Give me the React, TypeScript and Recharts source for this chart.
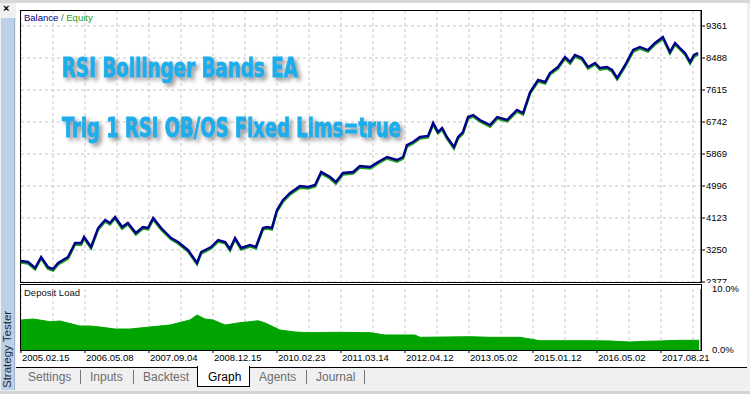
import { LineChart, Line, AreaChart, Area, XAxis, YAxis, CartesianGrid } from "recharts";

// x is the tester's bar position: one unit per grid column, dates are labelled every 2 columns
const steps = [
  0, 0.22, 0.44, 0.63, 0.84, 1.0, 1.16, 1.47, 1.69, 1.88,
  1.97, 2.19, 2.41, 2.63, 2.78, 2.94, 3.16, 3.34, 3.59, 3.81,
  3.97, 4.13, 4.38, 4.69, 4.91, 5.22, 5.5, 5.63, 5.94, 6.16,
  6.38, 6.53, 6.69, 6.88, 7.16, 7.34, 7.56, 7.69, 7.84, 8.0,
  8.19, 8.41, 8.72, 8.97, 9.19, 9.38, 9.66, 9.84, 10.06, 10.38,
  10.59, 10.91, 11.16, 11.44, 11.75, 11.94, 12.06, 12.25, 12.47, 12.72,
  12.88, 13.03, 13.16, 13.31, 13.53, 13.66, 13.81, 13.97, 14.13, 14.34,
  14.66, 14.88, 15.19, 15.5, 15.69, 15.91, 16.16, 16.38, 16.53, 16.78,
  17.0, 17.16, 17.31, 17.53, 17.72, 17.94, 18.09, 18.31, 18.47, 18.63,
  18.88, 19.13, 19.34, 19.59, 19.81, 20.06, 20.28, 20.44, 20.59, 20.75,
  20.91, 21.03, 21.16,
];

const balance = [
  2950, 2923, 2759, 3059, 2786, 2732, 2895, 3059, 3441, 3441,
  3605, 3332, 3850, 4068, 3987, 4150, 3877, 3987, 3714, 3877,
  3850, 4123, 3850, 3577, 3468, 3250, 2895, 3195, 3332, 3523,
  3468, 3277, 3577, 3305, 3386, 3332, 3850, 3877, 3850, 4341,
  4614, 4805, 4996, 4969, 5023, 5378, 5242, 5105, 5351, 5378,
  5542, 5514, 5651, 5787, 5705, 5787, 6115, 6196, 6333, 6360,
  6715, 6469, 6578, 6333, 6060, 6333, 6469, 6878, 6933, 6797,
  6660, 6878, 6797, 7069, 6987, 7560, 7888, 7833, 8079, 8242,
  8515, 8379, 8570, 8488, 8242, 8352, 8215, 8242, 8161, 7942,
  8297, 8706, 8788, 8706, 8897, 9061, 8652, 8897, 8761, 8624,
  8379, 8570, 8624,
];

const equity = [
  2910, 2880, 2720, 3020, 2740, 2690, 2855, 3015, 3400, 3395,
  3560, 3290, 3805, 4030, 3945, 4110, 3830, 3950, 3670, 3835,
  3810, 4080, 3805, 3540, 3425, 3210, 2860, 3150, 3290, 3480,
  3430, 3235, 3535, 3265, 3345, 3290, 3810, 3835, 3805, 4300,
  4570, 4765, 4950, 4930, 4980, 5335, 5200, 5060, 5310, 5335,
  5500, 5470, 5610, 5745, 5660, 5745, 6070, 6155, 6290, 6320,
  6670, 6430, 6535, 6290, 6020, 6290, 6425, 6835, 6890, 6755,
  6615, 6835, 6755, 7025, 6945, 7515, 7845, 7790, 8035, 8200,
  8470, 8335, 8525, 8445, 8200, 8310, 8170, 8200, 8120, 7900,
  8255, 8660, 8745, 8665, 8855, 9015, 8610, 8855, 8720, 8580,
  8335, 8525, 8580,
];

const loadSteps = [
  0, 0.38, 0.91, 1.22, 1.84, 2.16, 2.47, 2.94, 3.41, 4.03,
  4.66, 5.28, 5.5, 5.75, 6.0, 6.38, 6.84, 7.16, 7.41, 7.63,
  7.94, 8.09, 8.56, 9.03, 9.81, 10.91, 11.38, 12.31, 12.47, 14.03,
  14.66, 15.59, 15.91, 16.22, 17.78, 18.41, 19.03, 19.5, 19.97, 20.59,
  21.19,
];

// deposit load, %
const load = [
  4.92, 5.08, 4.64, 4.75, 3.93, 3.93, 3.77, 3.44, 3.44, 3.77,
  4.1, 4.92, 5.74, 5.08, 4.92, 4.1, 4.48, 4.64, 4.8, 4.43,
  3.66, 3.28, 2.95, 2.84, 2.9, 2.84, 2.46, 2.46, 2.08, 2.18,
  2.08, 2.08, 1.8, 1.52, 1.52, 1.48, 1.31, 1.43, 1.48, 1.59,
  1.59,
];

const dateLabels = [
  "2005.02.15", "2006.05.08", "2007.09.04", "2008.12.15", "2010.02.23", "2011.03.14",
  "2012.04.12", "2013.05.02", "2015.01.12", "2016.05.02", "2017.08.21",
];
const dateSteps = [0, 2, 4, 6, 8, 10, 12, 14, 16, 18, 20];
const gridSteps = [0, 1, 2, 3, 4, 5, 6, 7, 8, 9, 10, 11, 12, 13, 14, 15, 16, 17, 18, 19, 20, 21];
const balanceTicks = [2377, 3250, 4123, 4996, 5869, 6742, 7615, 8488, 9361];
const loadTicks = [0, 10];

const tabs = ["Settings", "Inputs", "Backtest", "Graph", "Agents", "Journal"];

const mainData = steps.map((step, i) => ({ step, balance: balance[i], equity: equity[i] }));
const loadData = loadSteps.map((step, i) => ({ step, load: load[i] }));

const axisFont = "'Liberation Sans', Arial, sans-serif";
const gridColor = "#c6c6c6";

function DateTick(props: any) {
  const { x, payload } = props;
  const label = dateLabels[dateSteps.indexOf(payload.value)];
  return (
    <g>
      <line x1={x} y1={66} x2={x} y2={69} stroke="#000" />
      <text x={x + 1} y={77} textAnchor="start" fontSize={9.5} fontFamily={axisFont} fill="#000">
        {label}
      </text>
    </g>
  );
}

const tabPos = [28, 90, 143, 208, 259, 316];
const sepPos = [80, 133, 306, 364];

export default function App() {
  return (
    <div style={{ position: "absolute", left: 0, top: 0, width: 750, height: 394, background: "#f0f0f0", overflow: "hidden", fontFamily: axisFont }}>
      {/* window chrome */}
      <div style={{ position: "absolute", left: 0, top: 0, width: 750, height: 3, background: "#d9d9d9" }} />
      <div style={{ position: "absolute", left: 3, top: 2, fontSize: 11, fontWeight: "bold", color: "#000" }}>×</div>
      <div style={{ position: "absolute", left: 1, top: 18, width: 13, height: 372, background: "#bcd1e8", borderRight: "1px solid #9fb4cc" }} />
      <div
        style={{
          position: "absolute", left: -31, top: 343, width: 76, height: 14, transform: "rotate(-90deg)",
          fontSize: 11.5, color: "#1c2a3a", whiteSpace: "nowrap", lineHeight: "14px", textAlign: "center",
        }}
      >
        Strategy Tester
      </div>
      <div style={{ position: "absolute", left: 16, top: 3, width: 731, height: 364, background: "#fff" }} />

      {/* balance / equity */}
      <div style={{ position: "absolute", left: 0, top: 0 }}>
        <LineChart width={750} height={283} data={mainData} margin={{ top: 11, right: 0, bottom: 1, left: 21 }}>
          <CartesianGrid stroke={gridColor} strokeDasharray="3 3" verticalValues={gridSteps} horizontalValues={balanceTicks} />
          <XAxis dataKey="step" type="number" domain={[0, 21.25]} ticks={gridSteps} hide allowDataOverflow />
          <YAxis
            orientation="right"
            width={49}
            domain={[2377, 9770]}
            ticks={balanceTicks}
            interval={0}
            allowDataOverflow
            tickSize={4}
            tickMargin={1}
            axisLine={{ stroke: "#000" }}
            tickLine={{ stroke: "#000" }}
            tick={{ fontSize: 9.5, fill: "#000", fontFamily: axisFont }}
          />
          <Line dataKey="equity" type="linear" stroke="#1f9f1f" strokeWidth={2.4} dot={false} isAnimationActive={false} />
          <Line dataKey="balance" type="linear" stroke="#00008b" strokeWidth={2.4} dot={false} isAnimationActive={false} />
        </LineChart>
      </div>
      <div style={{ position: "absolute", left: 20, top: 10, width: 682, height: 273, border: "1px solid #000", boxSizing: "border-box" }} />
      <div style={{ position: "absolute", left: 24, top: 12, fontSize: 9.5, whiteSpace: "nowrap" }}>
        <span style={{ color: "#00008b" }}>Balance</span>
        <span style={{ color: "#555" }}> / </span>
        <span style={{ color: "#1f9f1f" }}>Equity</span>
      </div>

      {/* caption */}
      <svg width={750} height={394} style={{ position: "absolute", left: 0, top: 0, pointerEvents: "none" }}>
        <defs>
          <filter id="sh" x="-10%" y="-40%" width="130%" height="190%">
            <feDropShadow dx={3} dy={3} stdDeviation={2.2} floodColor="#6f6f6f" floodOpacity={0.75} />
          </filter>
        </defs>
        <g
          filter="url(#sh)"
          fill="#1badea"
          stroke="#1badea"
          strokeWidth={0.9}
          fontFamily="'DejaVu Sans Condensed', 'DejaVu Sans', sans-serif"
          fontWeight="bold"
          fontSize={27}
        >
          <text x={62} y={77} textLength={236} lengthAdjust="spacingAndGlyphs">RSI Bollinger Bands EA</text>
          <text x={62} y={137} textLength={339} lengthAdjust="spacingAndGlyphs">Trig 1 RSI OB/OS Fixed Lims=true</text>
        </g>
      </svg>

      {/* deposit load */}
      <div style={{ position: "absolute", left: 16, top: 284, width: 731, height: 83, background: "#fff" }}>
        <div style={{ position: "absolute", left: -16, top: 0 }}>
          <AreaChart width={750} height={83} data={loadData} margin={{ top: 5, right: 0, bottom: 0, left: 21 }}>
            <CartesianGrid stroke={gridColor} strokeDasharray="3 3" horizontal={false} verticalValues={gridSteps} />
            <XAxis
              dataKey="step"
              type="number"
              domain={[0, 21.25]}
              ticks={dateSteps}
              interval={0}
              height={17}
              axisLine={false}
              tickLine={false}
              tick={<DateTick />}
              allowDataOverflow
            />
            <YAxis
              orientation="right"
              width={49}
              domain={[0, 10]}
              ticks={loadTicks}
              interval={0}
              tickLine={false}
              tickMargin={5}
              axisLine={{ stroke: "#000" }}
              tickFormatter={(v: number) => `${v.toFixed(1)}%`}
              tick={{ fontSize: 9.5, fill: "#000", fontFamily: axisFont }}
            />
            <Area dataKey="load" type="linear" stroke="#00a400" fill="#00a400" fillOpacity={1} isAnimationActive={false} />
          </AreaChart>
        </div>
      </div>
      <div style={{ position: "absolute", left: 20, top: 284, width: 682, height: 67, border: "1px solid #000", boxSizing: "border-box" }} />
      <div style={{ position: "absolute", left: 24, top: 287, fontSize: 9.5, color: "#111" }}>Deposit Load</div>

      {/* tabs */}
      <div style={{ position: "absolute", left: 16, top: 367, width: 731, height: 1, background: "#000" }} />
      <div style={{ position: "absolute", left: 197, top: 366, width: 53, height: 21, background: "#fff", border: "1px solid #000", borderTop: "none", boxSizing: "border-box" }} />
      {tabs.map((t, i) => (
        <div key={t} style={{ position: "absolute", left: tabPos[i], top: 369, fontSize: 12, lineHeight: "16px", color: t === "Graph" ? "#000" : "#6d6d6d" }}>
          {t}
        </div>
      ))}
      {sepPos.map((x) => (
        <div key={x} style={{ position: "absolute", left: x, top: 370, width: 1, height: 14, background: "#777" }} />
      ))}
      <div style={{ position: "absolute", left: 0, top: 391, width: 750, height: 3, background: "#d4d4d4" }} />
    </div>
  );
}
